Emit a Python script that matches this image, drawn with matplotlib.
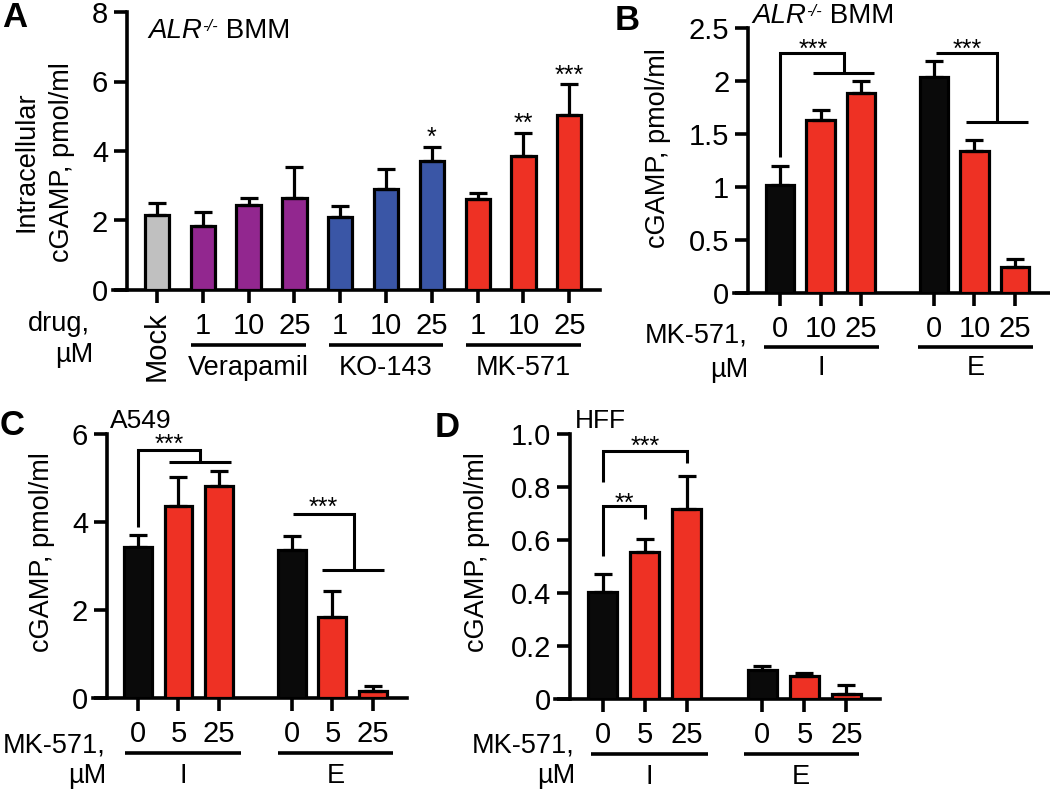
import matplotlib
matplotlib.use('Agg')
import matplotlib.pyplot as plt
import matplotlib.transforms as mtransforms

plt.rcParams['font.family'] = ['Liberation Sans', 'DejaVu Sans']

W, H = 1050, 790

# ---- data ----
# Panel A: ALR-/- BMM, intracellular cGAMP
a_labels = ['Mock', '1', '10', '25', '1', '10', '25', '1', '10', '25']
a_groups = ['Verapamil', 'KO-143', 'MK-571']
a_vals = [2.17, 1.84, 2.45, 2.64, 2.09, 2.91, 3.70, 2.63, 3.85, 5.03]
a_err = [0.32, 0.40, 0.21, 0.90, 0.33, 0.58, 0.42, 0.15, 0.67, 0.89]
a_stars = ['', '', '', '', '', '', '*', '', '**', '***']

# Panel B: ALR-/- BMM, MK-571 0/10/25 uM, I / E
b_labels = ['0', '10', '25', '0', '10', '25']
b_vals = [1.02, 1.63, 1.89, 2.04, 1.34, 0.25]
b_err = [0.18, 0.10, 0.11, 0.15, 0.10, 0.07]

# Panel C: A549
c_labels = ['0', '5', '25', '0', '5', '25']
c_vals = [3.43, 4.37, 4.81, 3.37, 1.85, 0.15]
c_err = [0.27, 0.65, 0.36, 0.32, 0.58, 0.13]

# Panel D: HFF
d_labels = ['0', '5', '25', '0', '5', '25']
d_vals = [0.404, 0.555, 0.718, 0.108, 0.086, 0.020]
d_err = [0.068, 0.048, 0.123, 0.015, 0.014, 0.032]

BLACK = '#0a0a0a'
RED = '#ee3124'
PURPLE = '#92278f'
BLUE = '#3a56a6'
GRAY = '#c0c0c0'

a_colors = [GRAY] + [PURPLE] * 3 + [BLUE] * 3 + [RED] * 3
ie_colors = [BLACK, RED, RED, BLACK, RED, RED]
ie_pos = [0, 1, 2, 3.8, 4.8, 5.8]

FS = 21      # tick labels
TS = 19.5    # other texts
LW = 2.6


def fy(py):
    return 1 - py / H


def fx(px):
    return px / W


def make_ax(x0, x1, y0, ytop, xlim, yaxis_x, ylim):
    # axes placed by pixel box; x axis starts left of the y axis (Prism style)
    ax = fig.add_axes([fx(x0), fy(y0), (x1 - x0) / W, (y0 - ytop) / H])
    ax.set_xlim(xlim)
    ax.set_ylim(ylim)
    for s in ['top', 'right']:
        ax.spines[s].set_visible(False)
    for s in ['left', 'bottom']:
        ax.spines[s].set_linewidth(LW)
        ax.spines[s].set_capstyle('projecting')
    ax.spines['left'].set_position(('data', yaxis_x))
    ax.spines['left'].set_bounds(ylim)
    ax.tick_params(axis='both', width=LW, length=9.5, labelsize=FS)
    ax.tick_params(axis='y', pad=4)
    ax.tick_params(axis='x', pad=6)
    return ax


def bars(ax, pos, vals, err, colors, width):
    ax.bar(pos, vals, width=width, color=colors, edgecolor='black',
           linewidth=2.3, zorder=3)
    ax.errorbar(pos, vals, yerr=[[0] * len(vals), err], fmt='none',
                ecolor='black', elinewidth=2.3, capsize=6.5, capthick=2.3,
                zorder=4)


def stars(ax, x, y, s, size=18):
    ax.annotate(s, (x, y), xytext=(0, -10), textcoords='offset points',
                ha='center', va='baseline', fontsize=size, annotation_clip=False)


def bline(ax, xs, ys):
    ax.plot(xs, ys, color='black', lw=2.2, solid_capstyle='butt',
            solid_joinstyle='miter', clip_on=False, zorder=5)


def underline(ax, xa, xb, py, name, pname):
    tr = mtransforms.blended_transform_factory(ax.transData, fig.transFigure)
    ax.plot([xa, xb], [fy(py), fy(py)], color='black', lw=2.6,
            transform=tr, clip_on=False, solid_capstyle='butt')
    ax.text((xa + xb) / 2, fy(pname), name, transform=tr, ha='center',
            va='center', fontsize=TS)


def alr_label(px, py_base):
    # italic ALR, small raised -/-, then BMM on the same baseline
    t1 = fig.text(fx(px), fy(py_base), 'ALR', fontsize=20, style='italic',
                  ha='left', va='baseline')
    t2 = fig.add_artist(plt.Annotation('-/-', xy=(1.0, 0.97), xycoords=t1,
                                       fontsize=12, style='italic',
                                       ha='left', va='top'))
    fig.add_artist(plt.Annotation(' BMM', xy=(1.0, 0.0), xycoords=(t2, t1),
                                  fontsize=20, ha='left', va='bottom'))


fig = plt.figure(figsize=(W / 100, H / 100), dpi=100)

# ---------- A ----------
axA = make_ax(113, 600, 290, 12, (-0.96, 9.67), -0.655, (0, 8))
posA = list(range(10))
bars(axA, posA, a_vals, a_err, a_colors, 0.53)
axA.set_yticks([0, 2, 4, 6, 8])
axA.set_xticks(posA, a_labels)
lab0 = axA.get_xticklabels()[0]
lab0.set_rotation(90)
lab0.set_va('top')
for i, s in enumerate(a_stars):
    if s:
        stars(axA, posA[i], a_vals[i] + a_err[i] + 0.45, s)
for g, name in enumerate(a_groups):
    underline(axA, 1 + 3 * g - 0.25, 3 + 3 * g + 0.25, 345, name, 368)
alr_label(148, 38)
fig.text(fx(90), fy(331), 'drug,', fontsize=TS, ha='right', va='baseline')
fig.text(fx(93), fy(362), 'µM', fontsize=TS, ha='right', va='baseline')
fig.text(fx(27), fy(162), 'Intracellular', fontsize=TS, rotation=90,
         ha='center', va='center')
fig.text(fx(62), fy(162), 'cGAMP, pmol/ml', fontsize=TS, rotation=90,
         ha='center', va='center')
fig.text(fx(2), fy(27), 'A', fontsize=25, fontweight='bold', ha='left',
         va='baseline')

# ---------- B ----------
axB = make_ax(734, 1049, 293, 28, (-1.136, 6.64), -0.79, (0, 2.5))
bars(axB, ie_pos, b_vals, b_err, ie_colors, 0.7)
axB.set_yticks([0, 0.5, 1, 1.5, 2, 2.5], ['0', '0.5', '1', '1.5', '2', '2.5'])
axB.set_xticks(ie_pos, b_labels)
bline(axB, [0, 0, 1.58, 1.58], [1.28, 2.26, 2.26, 2.075])
bline(axB, [0.81, 2.32], [2.075, 2.075])
stars(axB, 0.81, 2.36, '***')
bline(axB, [3.85, 5.36, 5.36], [2.26, 2.26, 1.61])
bline(axB, [4.59, 6.12], [1.61, 1.61])
stars(axB, 4.62, 2.36, '***')
underline(axB, -0.4, 2.45, 347, 'I', 368)
underline(axB, 3.4, 6.25, 347, 'E', 368)
alr_label(752, 23)
fig.text(fx(748), fy(343), 'MK-571,', fontsize=TS, ha='right', va='baseline')
fig.text(fx(748), fy(377), 'µM', fontsize=TS, ha='right', va='baseline')
fig.text(fx(658), fy(148), 'cGAMP, pmol/ml', fontsize=TS, rotation=90,
         ha='center', va='center')
fig.text(fx(615), fy(30), 'B', fontsize=25, fontweight='bold', ha='left',
         va='baseline')

# ---------- C ----------
axC = make_ax(93, 407, 698, 434, (-1.11, 6.64), -0.77, (0, 6))
bars(axC, ie_pos, c_vals, c_err, ie_colors, 0.69)
axC.set_yticks([0, 2, 4, 6])
axC.set_xticks(ie_pos, c_labels)
bline(axC, [0, 0, 1.54, 1.54], [3.89, 5.64, 5.64, 5.36])
bline(axC, [0.77, 2.3], [5.36, 5.36])
stars(axC, 0.77, 5.9, '***')
bline(axC, [3.82, 5.33, 5.33], [4.19, 4.19, 2.90])
bline(axC, [4.55, 6.07], [2.90, 2.90])
stars(axC, 4.57, 4.47, '***')
underline(axC, -0.33, 2.55, 753, 'I', 776)
underline(axC, 3.45, 6.3, 753, 'E', 776)
fig.text(fx(110), fy(428), 'A549', fontsize=19, ha='left', va='baseline')
fig.text(fx(106), fy(753), 'MK-571,', fontsize=TS, ha='right', va='baseline')
fig.text(fx(106), fy(783), 'µM', fontsize=TS, ha='right', va='baseline')
fig.text(fx(42), fy(552), 'cGAMP, pmol/ml', fontsize=TS, rotation=90,
         ha='center', va='center')
fig.text(fx(0), fy(435), 'C', fontsize=25, fontweight='bold', ha='left',
         va='baseline')

# ---------- D ----------
axD = make_ax(555, 880, 699, 434, (-1.14, 6.6), -0.79, (0, 1.0))
bars(axD, ie_pos, d_vals, d_err, ie_colors, 0.69)
axD.set_yticks([0, 0.2, 0.4, 0.6, 0.8, 1.0], ['0', '0.2', '0.4', '0.6', '0.8', '1.0'])
axD.set_xticks(ie_pos, d_labels)
bline(axD, [0, 0, 2, 2], [0.82, 0.937, 0.937, 0.892])
stars(axD, 1, 0.977, '***')
bline(axD, [0, 0, 1, 1], [0.539, 0.728, 0.728, 0.679])
stars(axD, 0.5, 0.763, '**')
underline(axD, -0.29, 2.5, 754, 'I', 777)
underline(axD, 3.35, 6.1, 754, 'E', 777)
fig.text(fx(575), fy(428), 'HFF', fontsize=19, ha='left', va='baseline')
fig.text(fx(575), fy(753), 'MK-571,', fontsize=TS, ha='right', va='baseline')
fig.text(fx(575), fy(783), 'µM', fontsize=TS, ha='right', va='baseline')
fig.text(fx(477), fy(552), 'cGAMP, pmol/ml', fontsize=TS, rotation=90,
         ha='center', va='center')
fig.text(fx(435), fy(437), 'D', fontsize=25, fontweight='bold', ha='left',
         va='baseline')

fig.savefig('out.png', dpi=100)
